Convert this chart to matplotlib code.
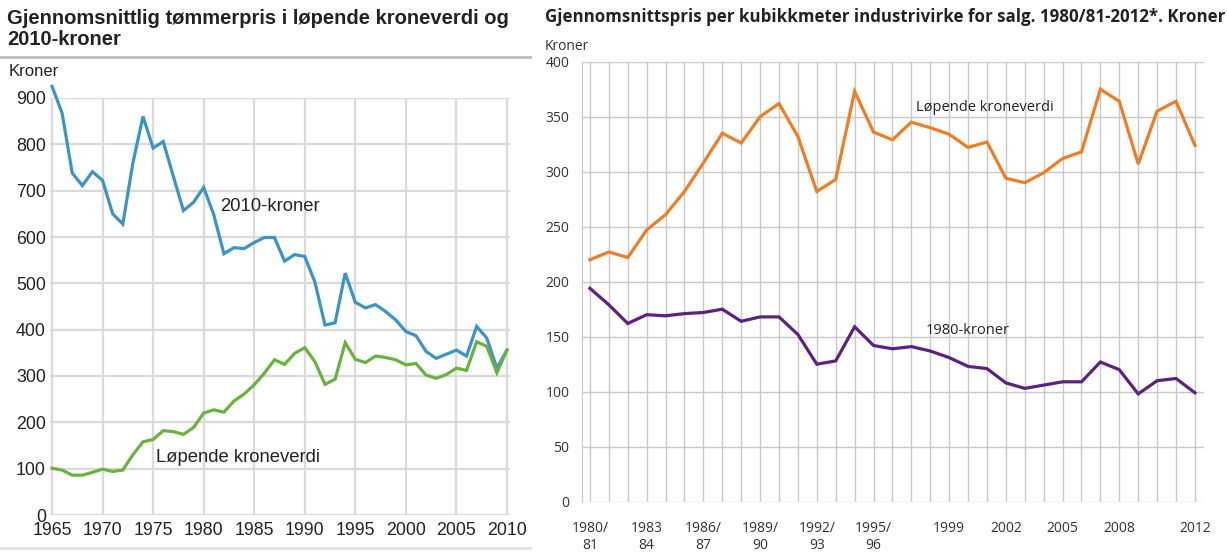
import numpy as np
import matplotlib
matplotlib.use("Agg")
import matplotlib.pyplot as plt
from matplotlib.lines import Line2D

# venstre figur: tømmerpris 1965-2010
years = list(range(1965, 2011))
kr2010 = [925, 867, 738, 711, 741, 722, 650, 628, 760, 860,
          792, 806, 731, 657, 675, 707, 648, 564, 577, 575,
          588, 599, 599, 548, 562, 558, 503, 410, 415, 522,
          459, 447, 454, 439, 421, 396, 387, 353, 338, 347,
          356, 343, 407, 382, 317, 356]
lopende_l = [101, 97, 86, 86, 92, 99, 94, 97, 130, 158,
             163, 182, 180, 174, 189, 220, 227, 222, 246, 261,
             281, 306, 335, 325, 349, 361, 331, 282, 293, 372,
             336, 329, 343, 340, 335, 324, 327, 302, 295, 303,
             317, 312, 374, 364, 307, 356]

# høyre figur: industrivirke 1980/81-2012
periods = ["1980/\n81", "", "", "1983\n84", "", "", "1986/\n87", "", "", "1989/\n90",
           "", "", "1992/\n93", "", "", "1995/\n96", "", "", "", "1999",
           "", "", "2002", "", "", "2005", "", "", "2008", "",
           "", "", "2012"]
lopende_r = [220, 227, 222, 247, 261, 282, 308, 335, 326, 350,
             362, 332, 282, 293, 373, 336, 329, 345, 340, 334,
             322, 327, 294, 290, 299, 312, 318, 375, 364, 307,
             355, 364, 324]
kr1980 = [194, 179, 162, 170, 169, 171, 172, 175, 164, 168,
          168, 152, 125, 128, 159, 142, 139, 141, 137, 131,
          123, 121, 108, 103, 106, 109, 109, 127, 120, 98,
          110, 112, 99]

W, H = 1227, 552
fig = plt.figure(figsize=(W / 100, H / 100), dpi=100)


def rect(l, t, r, b):
    return [l / W, 1 - b / H, (r - l) / W, (b - t) / H]


# ---- venstre ----
ax1 = fig.add_axes(rect(50, 98, 510, 515))
ax1.plot(years, kr2010, color="#3a94c8", lw=2.3, clip_on=False, solid_joinstyle="miter")
ax1.plot(years, lopende_l, color="#6ab23e", lw=2.3, clip_on=False, solid_joinstyle="miter")
ax1.set_xlim(1964.8, 2010.3)
ax1.set_ylim(0, 900)
ax1.set_xticks(range(1965, 2011, 5))
ax1.set_yticks(range(0, 901, 100))
ax1.grid(True, color="#dadada", lw=1.6)
ax1.set_axisbelow(True)
for s in ax1.spines.values():
    s.set_visible(False)
ax1.tick_params(length=0, labelsize=12.8, labelcolor="#222222", pad=3)
ax1.tick_params(axis="x", pad=5)
for lab in ax1.get_xticklabels() + ax1.get_yticklabels():
    lab.set_family("Liberation Sans")
ax1.text(1981.6, 665, "2010-kroner", fontsize=13.3, family="Liberation Sans",
         color="#222222", va="center")
ax1.text(1975.3, 125, "Løpende kroneverdi", fontsize=13.3, family="Liberation Sans",
         color="#222222", va="center")

fig.text(7 / W, 1 - 9 / H, "Gjennomsnittlig tømmerpris i løpende kroneverdi og\n2010-kroner",
         fontsize=14.5, fontweight="bold", family="Liberation Sans", color="#222222",
         va="top", linespacing=1.15)
fig.text(9 / W, 1 - 72 / H, "Kroner", fontsize=12, family="Liberation Sans",
         color="#222222", va="center")
fig.add_artist(Line2D([0, 530 / W], [1 - 57 / H, 1 - 57 / H], color="#bdbdbd", lw=2))
fig.add_artist(Line2D([0, 530 / W], [1 - 548 / H, 1 - 548 / H], color="#e0e0e0", lw=2))

# ---- høyre ----
x = np.arange(len(periods))
ax2 = fig.add_axes(rect(582, 61.7, 1204, 501.7))
ax2.plot(x, lopende_r, color="#f07d22", lw=2.3, solid_joinstyle="miter")
ax2.plot(x, kr1980, color="#5c2181", lw=2.3, solid_joinstyle="miter")
ax2.set_xlim(-0.42, 32.48)
ax2.set_ylim(0, 400)
ax2.set_xticks(x)
ax2.set_xticklabels(periods)
ax2.set_yticks(range(0, 401, 50))
ax2.grid(True, color="#c8c8c8", lw=1)
ax2.set_axisbelow(True)
for k in ["top", "right", "bottom"]:
    ax2.spines[k].set_visible(False)
ax2.spines["left"].set_color("#c8c8c8")
ax2.tick_params(length=0, labelsize=10, labelcolor="#333333")
ax2.tick_params(axis="y", pad=9)
ax2.tick_params(axis="x", pad=14)
for lab in ax2.get_xticklabels() + ax2.get_yticklabels():
    lab.set_family("Open Sans")
ax2.text(17.25, 358, "Løpende kroneverdi", fontsize=10.5, family="Open Sans",
         color="#222222", va="center")
ax2.text(17.75, 156, "1980-kroner", fontsize=10.5, family="Open Sans",
         color="#222222", va="center")

fig.text(545 / W, 1 - 17 / H,
         "Gjennomsnittspris per kubikkmeter industrivirke for salg. 1980/81-2012*. Kroner",
         fontsize=12.15, fontweight="bold", family="Open Sans", color="#222222", va="center")
fig.text(545 / W, 1 - 47 / H, "Kroner", fontsize=10, family="Open Sans",
         color="#333333", va="center")

fig.savefig("out.png", dpi=100)
